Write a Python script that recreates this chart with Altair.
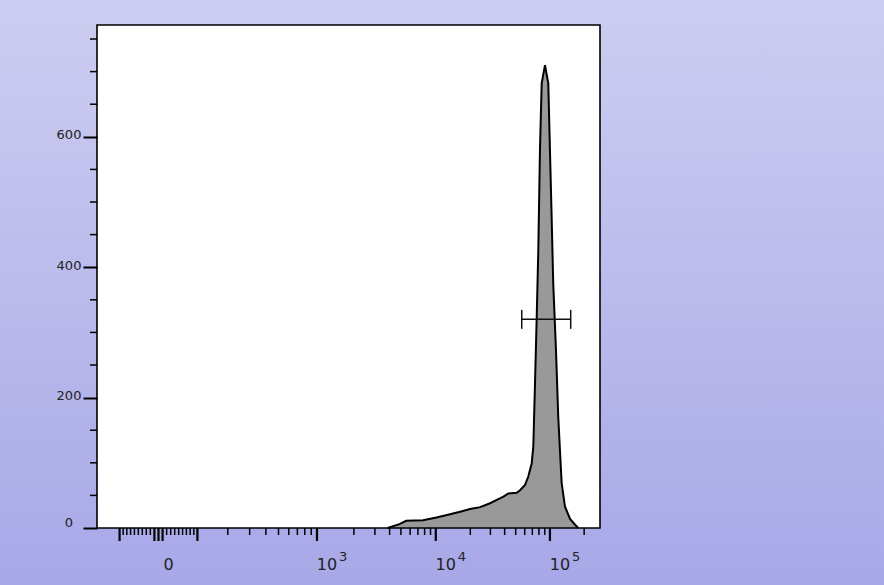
import altair as alt
import numpy as np
import pandas as pd

# ---------------- data ----------------
# histogram: fluorescence value (x) and event count (y)
HIST_VALUE = [3850, 4850, 5550, 7750, 10150, 13300, 16300, 19900, 24400, 29800,
              34100, 39000, 43100, 51000, 54600, 60400, 64500, 69100, 71400, 73900,
              76500, 79000, 81700, 84600, 90400, 96700, 100000, 103500, 106900, 113000,
              118300, 122400, 126800, 135500, 150300, 166300, 177700]
HIST_COUNT = [0, 6, 11, 12, 16, 21, 25, 29, 32, 38,
              43, 48, 53, 54, 58, 66, 79, 99, 125, 222,
              324, 426, 580, 682, 710, 682, 580, 477, 375, 273,
              171, 120, 69, 33, 14, 5, 0]

# gate (range marker)
GATE_RANGE = [56500, 152300]
GATE_LEVEL = [320]

# axes
X_DOMAIN = [-171, 275800]
Y_DOMAIN = [0, 771.5]
X_MAJOR_TICKS = [-100, -10, 0, 10, 100, 1000, 10000, 100000]
X_MINOR_TICKS = [-90, -80, -70, -60, -50, -40, -30, -20,
                 20, 30, 40, 50, 60, 70, 80, 90,
                 200, 300, 400, 500, 600, 700, 800, 900,
                 2000, 3000, 4000, 5000, 6000, 7000, 8000, 9000,
                 20000, 30000, 40000, 50000, 60000, 70000, 80000, 90000,
                 200000]
X_LABEL_VALUES = [0, 1000, 10000, 100000]
X_LABEL_BASE = ["0", "10", "10", "10"]
X_LABEL_EXP = ["", "3", "4", "5"]
Y_MAJOR_TICKS = [0, 200, 400, 600]
Y_MINOR_TICKS = [50, 100, 150, 250, 300, 350, 450, 500, 550, 650, 700, 750]

# logicle (biexponential) display transform parameters
LOGICLE_K = 35.5
LOGICLE_P = 2.4


def logicle(values):
    """Display position (decades from zero) of data values on a logicle axis."""
    v = np.asarray(values, dtype=float)
    a = np.abs(v)
    lo = np.zeros_like(a)
    hi = np.full_like(a, 8.0)
    p = LOGICLE_P
    for _ in range(80):
        mid = (lo + hi) / 2
        s = LOGICLE_K * (10 ** mid - p * p * 10 ** (-mid / p) + p * p - 1)
        big = s > a
        hi = np.where(big, mid, hi)
        lo = np.where(big, lo, mid)
    return np.sign(v) * (lo + hi) / 2


W, H = 503, 503
FONT = "DejaVu Sans"
TXT = "#222222"

hist = pd.DataFrame({"pos": logicle(HIST_VALUE), "count": HIST_COUNT})
gate = pd.DataFrame({"pos": logicle([GATE_RANGE[0]]), "pos2": logicle([GATE_RANGE[1]]),
                     "count": GATE_LEVEL})
gate_ends = pd.DataFrame({"pos": logicle(GATE_RANGE), "count": GATE_LEVEL * 2})
xmaj = pd.DataFrame({"pos": logicle(X_MAJOR_TICKS)})
xmin = pd.DataFrame({"pos": logicle(X_MINOR_TICKS)})
xlab = pd.DataFrame({"pos": logicle(X_LABEL_VALUES), "base": X_LABEL_BASE, "exp": X_LABEL_EXP})
ymin = pd.DataFrame({"count": Y_MINOR_TICKS})
one = pd.DataFrame({"a": [0]})

x_dom = [float(v) for v in logicle(X_DOMAIN)]
x_enc = alt.X("pos:Q", scale=alt.Scale(domain=x_dom, nice=False, zero=False), axis=None)
y_enc = alt.Y("count:Q", scale=alt.Scale(domain=Y_DOMAIN, nice=False, zero=False),
              axis=alt.Axis(values=Y_MAJOR_TICKS, title=None, grid=False, domain=False,
                            tickSize=14, tickWidth=2, tickColor="black",
                            labelFont=FONT, labelFontSize=13, labelColor=TXT,
                            labelAlign="center", labelPadding=14.5,
                            labelOffset=alt.condition("datum.value == 0",
                                                      alt.value(-6), alt.value(-2)),
                            zindex=1))

bg = alt.Chart(one).mark_rect(
    color=alt.Gradient(gradient="linear",
                       stops=[alt.GradientStop(color="#CDCDF1", offset=0),
                              alt.GradientStop(color="#A8A8E8", offset=1)],
                       x1=0, x2=0, y1=0, y2=1)
).encode(x=alt.value(-97), x2=alt.value(787), y=alt.value(-25), y2=alt.value(560))

plot_bg = alt.Chart(one).mark_rect(color="white").encode(
    x=alt.value(0), x2=alt.value(W), y=alt.value(0), y2=alt.value(H))

area = alt.Chart(hist).mark_area(color="#999999", opacity=1).encode(x=x_enc, y=y_enc)
line = alt.Chart(hist).mark_line(color="black", strokeWidth=2).encode(x=x_enc, y=y_enc)

gate_line = alt.Chart(gate).mark_rule(color="#111111", strokeWidth=1.5).encode(
    x=x_enc, x2="pos2:Q", y=y_enc)
gate_caps = alt.Chart(gate_ends).mark_tick(color="#111111", orient="vertical", size=19,
                                           thickness=1.5, opacity=1).encode(x=x_enc, y=y_enc)

border = alt.Chart(one).mark_rect(color="white", fillOpacity=0, stroke="black",
                                  strokeWidth=1.6).encode(
    x=alt.value(0), x2=alt.value(W), y=alt.value(0), y2=alt.value(H))

x_major = alt.Chart(xmaj).mark_rule(color="black", strokeWidth=2.2).encode(
    x=x_enc, y=alt.value(H), y2=alt.value(H + 13))
x_minor = alt.Chart(xmin).mark_rule(color="black", strokeWidth=1.5).encode(
    x=x_enc, y=alt.value(H), y2=alt.value(H + 7))
y_minor = alt.Chart(ymin).mark_rule(color="black", strokeWidth=1.5).encode(
    y=y_enc, x=alt.value(-7), x2=alt.value(0))

x_base = alt.Chart(xlab).mark_text(font=FONT, fontSize=16, color=TXT, align="center",
                                   baseline="middle", dx=10).encode(
    x=x_enc, y=alt.value(H + 37), text="base:N")
x_exp = alt.Chart(xlab).mark_text(font=FONT, fontSize=13, color=TXT, align="left",
                                  baseline="middle", dx=22).encode(
    x=x_enc, y=alt.value(H + 29), text="exp:N")

chart = alt.layer(
    bg, plot_bg, area, line, gate_line, gate_caps, border,
    x_major, x_minor, y_minor, x_base, x_exp
).properties(
    width=W, height=H,
    autosize=alt.AutoSizeParams(type="none"),
    padding={"left": 97, "top": 25, "right": 284, "bottom": 57},
).configure_view(stroke=None)

chart.save("out.html", embed_options={"renderer": "svg", "actions": False})
